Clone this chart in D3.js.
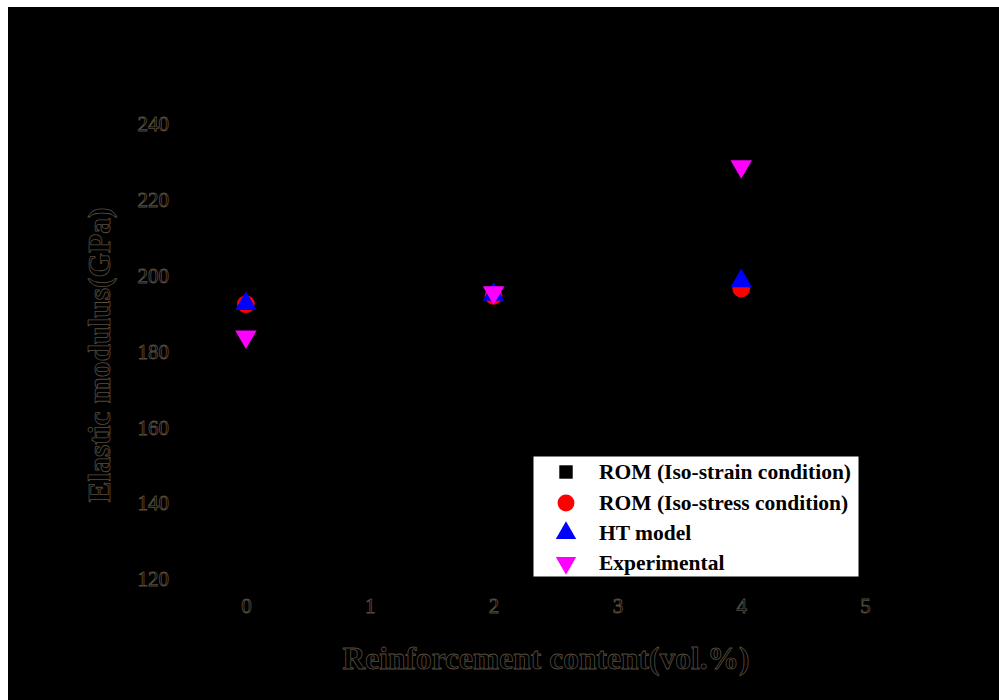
<!DOCTYPE html>
<html>
<head>
<meta charset="utf-8">
<script src="https://cdn.jsdelivr.net/npm/d3@7"></script>
<style>
  html, body { margin: 0; padding: 0; background: #ffffff; }
  svg { display: block; }
  .ghost { fill: #000; stroke: #574d3e; stroke-width: 0.8px; }
</style>
</head>
<body>
<script>
// Elastic modulus vs reinforcement content
const contents = [0, 2, 4];
const romStrain = [192.6, 195.3, 198.4];
const romStress = [192.5, 194.7, 196.6];
const htModel   = [192.6, 195.0, 198.6];
const experimental = [183.9, 195.6, 228.8];
const xTicks = [0, 1, 2, 3, 4, 5];
const yTicks = [120, 140, 160, 180, 200, 220, 240];
const seriesNames = ["ROM (Iso-strain condition)", "ROM (Iso-stress condition)", "HT model", "Experimental"];

const W = 999, H = 700;
const svg = d3.select("body").append("svg").attr("width", W).attr("height", H);

// dark panel
svg.append("rect").attr("x", 8).attr("y", 7).attr("width", W - 8).attr("height", H - 7).attr("fill", "#000");

const x = d3.scaleLinear().domain([-0.5, 5.5]).range([184, 927]);
const y = d3.scaleLinear().domain([120, 240]).range([579, 124]);

const serif = "'Liberation Serif', 'Times New Roman', serif";

// axes (black on black)
const xAxis = svg.append("g").attr("transform", "translate(0,590)")
  .call(d3.axisBottom(x).tickValues(xTicks).tickFormat(d3.format("d")).tickSize(0).tickPadding(8));
const yAxis = svg.append("g").attr("transform", "translate(184,0)")
  .call(d3.axisLeft(y).tickValues(yTicks).tickFormat(d3.format("d")).tickSize(0).tickPadding(15));
[xAxis, yAxis].forEach(g => {
  g.attr("font-family", serif).attr("font-size", 21);
  g.select(".domain").attr("stroke", "#000");
  g.selectAll("text").attr("class", "ghost");
});

// axis titles
svg.append("text").attr("class", "ghost")
  .attr("x", 546).attr("y", 669).attr("text-anchor", "middle")
  .attr("font-family", serif).attr("font-weight", "bold").attr("font-size", 31.5)
  .text("Reinforcement content(vol.%)");
svg.append("text").attr("class", "ghost")
  .attr("transform", "translate(110,355) rotate(-90)").attr("text-anchor", "middle")
  .attr("font-family", serif).attr("font-weight", "bold").attr("font-size", 31.5)
  .text("Elastic modulus(GPa)");

// markers
const shapes = [
  { data: romStrain, sym: d3.symbolSquare, size: 200, color: "#000000", rot: 0 },
  { data: romStress, sym: d3.symbolCircle, size: 250, color: "#ff0000", rot: 0 },
  { data: htModel, sym: d3.symbolTriangle, size: 200, color: "#0000ff", rot: 0 },
  { data: experimental, sym: d3.symbolTriangle, size: 200, color: "#ff00ff", rot: 180 }
];
shapes.forEach(s => {
  svg.append("g").selectAll("path").data(s.data).join("path")
    .attr("d", d3.symbol(s.sym, s.size))
    .attr("transform", (d, i) => `translate(${x(contents[i])},${y(d)}) rotate(${s.rot})`)
    .attr("fill", s.color);
});

// legend
const lg = svg.append("g");
lg.append("rect").attr("x", 533).attr("y", 456).attr("width", 326).attr("height", 121)
  .attr("fill", "#fff").attr("stroke", "#000").attr("stroke-width", 1);
const rowY = [472, 503, 533, 563];
shapes.forEach((s, i) => {
  lg.append("path").attr("d", d3.symbol(s.sym, s.size * 0.9))
    .attr("transform", `translate(566,${rowY[i]}) rotate(${s.rot})`).attr("fill", s.color);
  lg.append("text").attr("x", 599).attr("y", rowY[i] + 7)
    .attr("font-family", serif).attr("font-weight", "bold").attr("font-size", 21.5)
    .attr("fill", "#000").text(seriesNames[i]);
});
</script>
</body>
</html>
